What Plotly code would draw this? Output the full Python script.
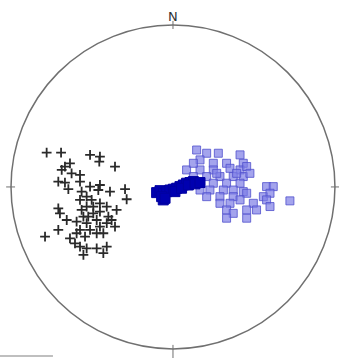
import plotly.graph_objects as go

# Poles in unit-circle (equal-area net) coordinates
plus_x = [-0.780,-0.691,-0.512,-0.451,-0.455,-0.358,-0.636,-0.667,-0.687,-0.626,-0.574,-0.708,-0.667,-0.646,-0.574,-0.512,-0.451,-0.461,-0.389,-0.296,-0.286,-0.564,-0.533,-0.574,-0.502,-0.451,-0.533,-0.564,-0.553,-0.492,-0.451,-0.399,-0.348,-0.708,-0.698,-0.656,-0.595,-0.533,-0.471,-0.409,-0.379,-0.358,-0.512,-0.574,-0.708,-0.790,-0.636,-0.605,-0.574,-0.533,-0.471,-0.430,-0.553,-0.409,-0.471,-0.430,-0.543,-0.595,-0.451,-0.492,-0.409,-0.523]
plus_y = [0.212,0.212,0.198,0.187,0.156,0.126,0.146,0.126,0.105,0.084,0.074,0.033,0.027,-0.014,0.033,0.002,0.012,-0.019,-0.029,-0.014,-0.076,-0.029,-0.060,-0.080,-0.080,-0.101,-0.121,-0.142,-0.183,-0.163,-0.152,-0.183,-0.142,-0.132,-0.163,-0.204,-0.214,-0.224,-0.204,-0.224,-0.204,-0.245,-0.265,-0.265,-0.265,-0.307,-0.317,-0.348,-0.368,-0.379,-0.379,-0.409,-0.420,-0.368,-0.286,-0.286,-0.307,-0.286,-0.245,-0.121,-0.121,-0.183]

sq_x = [0.146,0.208,0.280,0.414,0.167,0.249,0.331,0.434,0.084,0.167,0.249,0.352,0.414,0.455,0.126,0.208,0.290,0.372,0.434,0.084,0.167,0.249,0.331,0.414,0.228,0.311,0.372,0.434,0.290,0.372,0.455,0.578,0.619,0.558,0.599,0.290,0.352,0.414,0.496,0.578,0.599,0.331,0.372,0.455,0.516,0.331,0.455,0.722,0.208,0.167,0.475,0.393,0.270,0.126]
sq_y = [0.228,0.208,0.208,0.198,0.167,0.146,0.146,0.146,0.105,0.105,0.105,0.115,0.105,0.126,0.064,0.064,0.064,0.064,0.064,0.023,0.023,0.023,0.023,0.023,-0.019,-0.019,-0.019,-0.029,-0.060,-0.060,-0.039,0.002,0.002,-0.060,-0.039,-0.101,-0.101,-0.080,-0.101,-0.080,-0.121,-0.142,-0.163,-0.142,-0.142,-0.193,-0.193,-0.086,-0.060,-0.019,0.084,0.084,0.084,0.146]

dk_x = [-0.101,-0.080,-0.060,-0.039,-0.019,0.002,0.023,0.043,0.064,0.084,0.105,0.126,-0.060,-0.070,-0.049,0.012,0.053,0.095,0.136,0.167]
dk_y = [-0.035,-0.023,-0.039,-0.029,-0.019,-0.014,-0.008,0.002,0.012,0.023,0.027,0.033,-0.080,-0.060,-0.070,-0.029,-0.008,0.012,0.019,0.027]

fig = go.Figure()
fig.add_trace(go.Scatter(x=plus_x, y=plus_y, mode="markers",
    marker=dict(symbol="cross-thin", size=7, line=dict(color="#2a2a2a", width=1.8))))
fig.add_trace(go.Scatter(x=sq_x, y=sq_y, mode="markers",
    marker=dict(symbol="square", size=8, color="rgba(125,125,230,0.7)",
                line=dict(color="rgba(80,80,205,0.8)", width=1))))
fig.add_trace(go.Scatter(x=dk_x, y=dk_y, mode="markers",
    marker=dict(symbol="square", size=10, color="#0000b0", line=dict(color="#0000a0", width=1))))

gray = "#707070"
shapes = [dict(type="circle", x0=-1, y0=-1, x1=1, y1=1, line=dict(color=gray, width=1.5)),
          dict(type="line", x0=0, y0=0.975, x1=0, y1=1.025, line=dict(color=gray, width=1)),
          dict(type="line", x0=0, y0=-0.975, x1=0, y1=-1.06, line=dict(color=gray, width=1)),
          dict(type="line", x0=-0.975, y0=0, x1=-1.03, y1=0, line=dict(color=gray, width=1)),
          dict(type="line", x0=0.975, y0=0, x1=1.03, y1=0, line=dict(color=gray, width=1)),
          dict(type="line", x0=-1.07, y0=-1.043, x1=-0.741, y1=-1.043, line=dict(color="#aaaaaa", width=1.5))]

fig.update_layout(width=339, height=358, margin=dict(l=0, r=0, t=0, b=0),
    paper_bgcolor="white", plot_bgcolor="white", showlegend=False, shapes=shapes,
    annotations=[dict(x=0, y=1.05, text="N", showarrow=False, font=dict(family="DejaVu Sans", size=13, color="#333"))])
fig.update_xaxes(range=[-1.068, 1.025], visible=False)
fig.update_yaxes(range=[-1.056, 1.154], visible=False)
fig.write_html("out.html", config={"displayModeBar": False},
               post_script="document.body.style.margin='0';document.body.style.overflow='hidden';")
